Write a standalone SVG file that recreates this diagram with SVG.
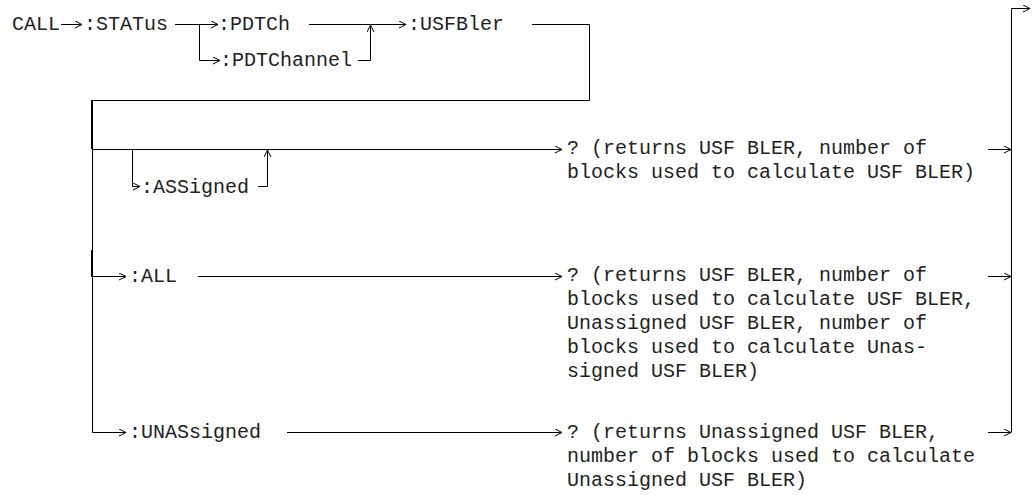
<svg xmlns="http://www.w3.org/2000/svg" width="1036" height="495" viewBox="0 0 1036 495">
<style>
text{font-family:"Liberation Mono","Courier New",monospace;font-size:20px;fill:#222}
.c{fill:none;stroke:#000;stroke-width:1}
.a{fill:none;stroke:#000;stroke-width:1;marker-end:url(#ah)}
.t{fill:none;stroke:#000;stroke-width:2}
</style>
<defs>
<marker id="ah" markerWidth="9" markerHeight="9" refX="7" refY="4" orient="auto" markerUnits="userSpaceOnUse"><path d="M0,0.5 L7,4 L0,7.5" fill="none" stroke="#000" stroke-width="1"/></marker>
</defs>
<rect width="1036" height="495" fill="#fff"/>
<g id="connectors">
<path class="a" d="M61,24.5 H82"/>
<path class="c" d="M175,24.5 H199.5 V60.5"/>
<path class="a" d="M199.5,24.5 H218"/>
<path class="a" d="M199.5,60.5 H220"/>
<path class="c" d="M309,24.5 H370.5"/>
<path class="a" d="M358,60.5 H370.5 V25"/>
<path class="a" d="M370.5,24.5 H406"/>
<path class="c" d="M532,24.5 H589.5 V100.5 H92.5"/>
<path class="c" d="M92.5,100.5 V432.5"/>
<path class="t" d="M92,100 V149"/>
<path class="t" d="M92,250 V277"/>
<path class="a" d="M92.5,149.5 H562"/>
<path class="c" d="M132.5,149.5 V186.5"/>
<path class="a" d="M132.5,186.5 H140"/>
<path class="a" d="M258,186.5 H267.5 V150"/>
<path class="a" d="M92.5,276.5 H126"/>
<path class="a" d="M198,276.5 H562"/>
<path class="a" d="M92.5,432.5 H126"/>
<path class="a" d="M287,432.5 H562"/>
<path class="a" d="M988,149.5 H1011"/>
<path class="a" d="M988,276.5 H1011"/>
<path class="a" d="M988,432.5 H1011"/>
<path class="c" d="M1011.5,432.5 V8.5"/>
<path class="a" d="M1011.5,8.5 H1030"/>
</g>
<g id="n-call"><text x="12" y="30">CALL</text></g>
<g id="n-status"><text x="84" y="30">:STATus</text></g>
<g id="n-pdtch"><text x="218" y="30">:PDTCh</text></g>
<g id="n-pdtchannel"><text x="220" y="66">:PDTChannel</text></g>
<g id="n-usfbler"><text x="408" y="30">:USFBler</text></g>
<g id="n-assigned"><text x="141" y="193">:ASSigned</text></g>
<g id="n-all"><text x="129" y="282">:ALL</text></g>
<g id="n-unassigned"><text x="129" y="438">:UNASsigned</text></g>
<g id="n-q-assigned"><text x="567" y="154">? (returns USF BLER, number of</text><text x="567" y="178">blocks used to calculate USF BLER)</text></g>
<g id="n-q-all"><text x="567" y="281">? (returns USF BLER, number of</text><text x="567" y="305">blocks used to calculate USF BLER,</text><text x="567" y="329">Unassigned USF BLER, number of</text><text x="567" y="353">blocks used to calculate Unas-</text><text x="567" y="377">signed USF BLER)</text></g>
<g id="n-q-unassigned"><text x="567" y="438">? (returns Unassigned USF BLER,</text><text x="567" y="462">number of blocks used to calculate</text><text x="567" y="486">Unassigned USF BLER)</text></g>
</svg>
